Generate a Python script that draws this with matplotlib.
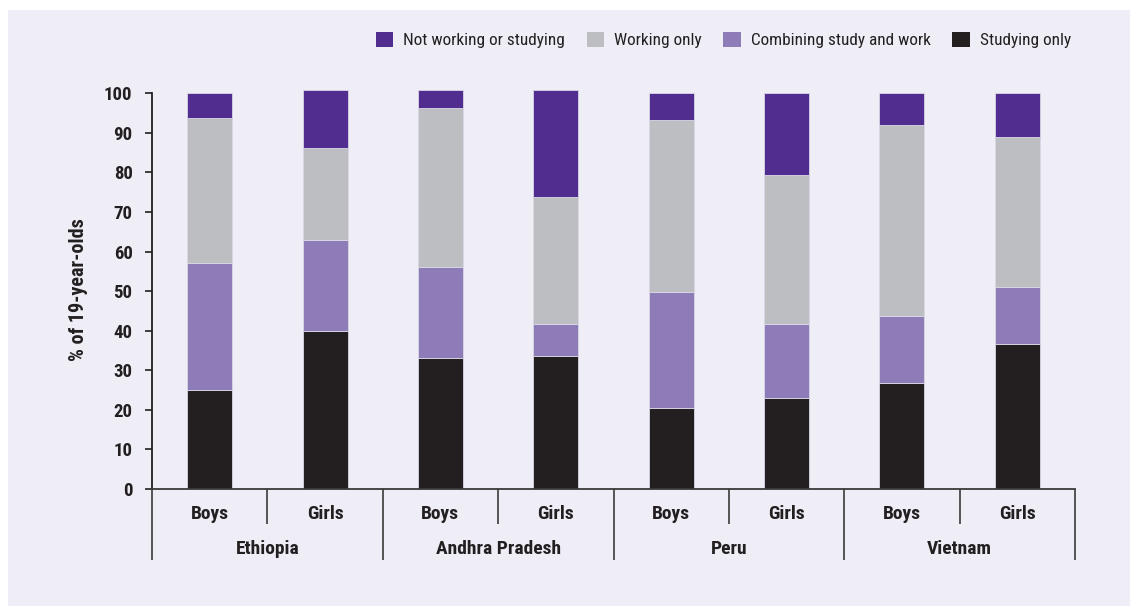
import matplotlib
matplotlib.use("Agg")
import matplotlib.pyplot as plt
from matplotlib import font_manager
from matplotlib.patches import Rectangle, Patch
from matplotlib.transforms import blended_transform_factory

# ---- data ----
countries = ["Ethiopia", "Andhra Pradesh", "Peru", "Vietnam"]
genders = ["Boys", "Girls"]
series_names = ["Studying only", "Combining study and work", "Working only", "Not working or studying"]
studying_only = [25.0, 40.0, 33.0, 33.7, 20.5, 23.0, 26.7, 36.7]
combining = [32.0, 23.0, 23.2, 8.1, 29.4, 18.8, 16.9, 14.4]
working_only = [36.8, 23.2, 40.1, 31.9, 43.3, 37.6, 48.4, 37.8]
not_working = [6.2, 14.6, 4.5, 27.1, 6.8, 20.6, 8.0, 11.1]
y_ticks = [0, 10, 20, 30, 40, 50, 60, 70, 80, 90, 100]
y_label = "% of 19-year-olds"

colors = {
    "Studying only": "#231F20",
    "Combining study and work": "#8E7CB8",
    "Working only": "#BDBEC1",
    "Not working or studying": "#512D8F",
}

names = {f.name for f in font_manager.fontManager.ttflist}
narrow = None
for cand in ["Liberation Sans Narrow", "Roboto Condensed", "Open Sans Condensed", "Liberation Sans"]:
    if cand in names:
        narrow = cand
        break
fam = [narrow, "DejaVu Sans"] if narrow else ["DejaVu Sans"]
plt.rcParams["font.family"] = fam

W, H = 1130, 606
fig = plt.figure(figsize=(W / 100, H / 100), dpi=100, facecolor="white")
bg = "#EFEEF7"
fig.patches.append(Rectangle((8 / W, 0), 1 - 8 / W, 1 - 10 / H, transform=fig.transFigure,
                             facecolor=bg, edgecolor="none", zorder=-10))

ax_left, ax_right = 152 / W, 1075 / W
y0_px = 489
px_per_unit = (489 - 93.3) / 100
ymax = 101
ax_top_px = y0_px - ymax * px_per_unit
ax = fig.add_axes([ax_left, 1 - y0_px / H, ax_right - ax_left, (y0_px - ax_top_px) / H])
ax.set_facecolor("none")

n = len(studying_only)
x = list(range(n))
bw = 0.39
bottom = [0.0] * n
for name, vals in zip(series_names, [studying_only, combining, working_only, not_working]):
    ax.bar(x, vals, bw, bottom=bottom, color=colors[name], edgecolor="#D9D7E6", linewidth=0.6,
           label=name, zorder=2)
    bottom = [b + v for b, v in zip(bottom, vals)]

ax.set_xlim(-0.5, n - 0.5)
ax.set_ylim(0, ymax)
ax.set_yticks(y_ticks)
ax.set_yticklabels([str(t) for t in y_ticks], fontsize=13.5, fontweight="bold", color="#231F20")
ax.tick_params(axis="y", direction="out", length=5, width=1.2, pad=9, color="#231F20")
ax.set_xticks([])
for s in ["top", "right"]:
    ax.spines[s].set_visible(False)
ax.spines["left"].set_bounds(0, 100)
ax.spines["left"].set_linewidth(1.3)
ax.spines["left"].set_color("#231F20")
ax.spines["bottom"].set_linewidth(1.3)
ax.spines["bottom"].set_color("#3A3A3A")

ax.set_ylabel(y_label, fontsize=14.5, fontweight="bold", color="#231F20")
ax.yaxis.set_label_coords(-(152 - 88) / (1075 - 152), 0.5)

# category separators and labels
axh_px = y0_px - ax_top_px
trans = blended_transform_factory(ax.transData, ax.transAxes)
long_y = -(560 - y0_px) / axh_px
short_y = -(524 - y0_px) / axh_px
for i in range(n + 1):
    xs = i - 0.5
    yy = long_y if i % 2 == 0 else short_y
    ax.plot([xs, xs], [0, yy], transform=trans, color="#3A3A3A", lw=1.2, clip_on=False,
            solid_capstyle="butt")
for i in range(n):
    ax.text(i, -(519 - y0_px) / axh_px, genders[i % 2], transform=trans, ha="center", va="baseline",
            fontsize=14, fontweight="bold", color="#231F20")
for j, c in enumerate(countries):
    ax.text(2 * j + 0.5, -(554 - y0_px) / axh_px, c, transform=trans, ha="center", va="baseline",
            fontsize=14, fontweight="bold", color="#231F20")

# legend
order = ["Not working or studying", "Working only", "Combining study and work", "Studying only"]
handles = [Patch(facecolor=colors[nm], edgecolor="none") for nm in order]
leg = fig.legend(handles, order, loc="center right", bbox_to_anchor=(1071 / W, 1 - 40 / H),
                 ncol=4, frameon=False, fontsize=12.4, handlelength=1.0, handleheight=1.0,
                 handletextpad=0.6, columnspacing=1.25, borderaxespad=0, borderpad=0)
for t in leg.get_texts():
    t.set_color("#231F20")

fig.savefig("out.png", dpi=100, facecolor="white")
